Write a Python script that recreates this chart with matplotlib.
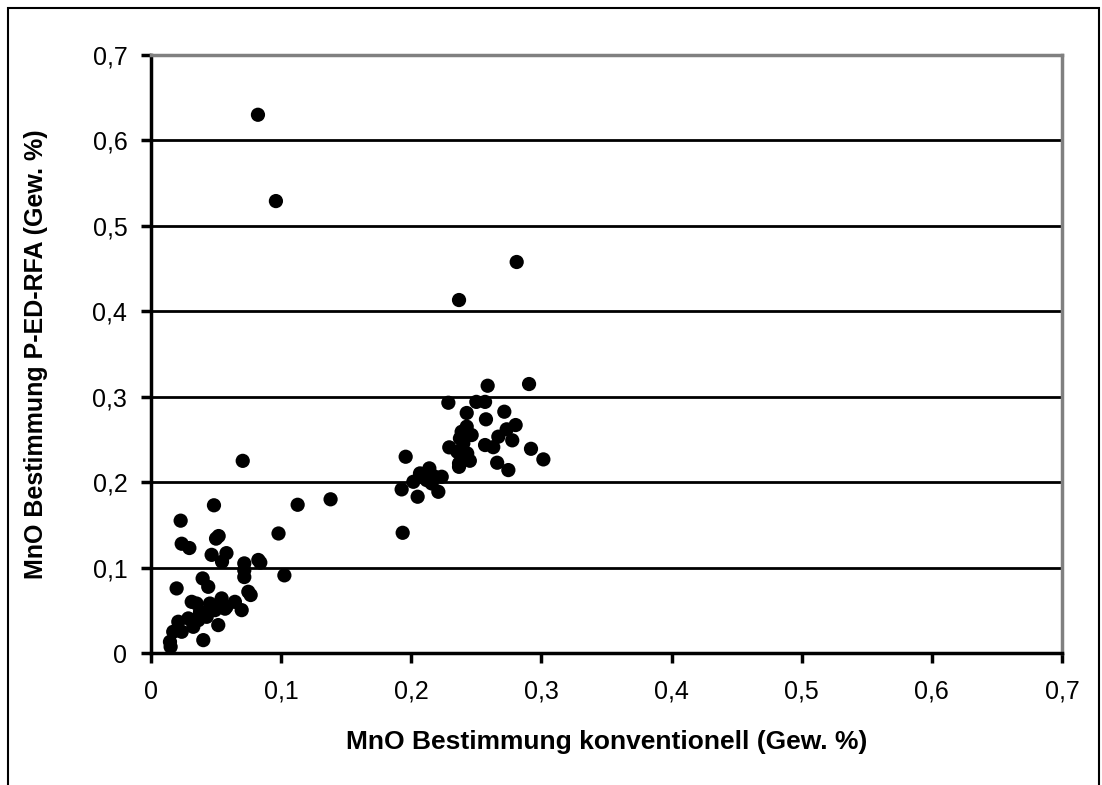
import matplotlib
matplotlib.use('Agg')
import matplotlib.pyplot as plt
from matplotlib.ticker import FuncFormatter, MultipleLocator
from matplotlib.patches import Rectangle

plt.rcParams['font.family'] = ['Liberation Sans', 'DejaVu Sans']

# MnO: konventionell (x) gegen P-ED-RFA (y), Gew. %
mno_konv = [
    0.0822, 0.0960, 0.2810, 0.2367,
    0.2587, 0.2905, 0.2285, 0.2500, 0.2567, 0.2426, 0.2715, 0.2574,
    0.2802, 0.2733, 0.2669, 0.2776, 0.2387, 0.2426, 0.2464, 0.2374,
    0.2400, 0.2567, 0.2630, 0.2292, 0.2920, 0.3015, 0.2354, 0.2430,
    0.2450, 0.2367, 0.2367, 0.2660, 0.2746,
    0.1957, 0.2067, 0.2139, 0.2182, 0.2234, 0.2016, 0.2118, 0.2157,
    0.1926, 0.2049, 0.2208, 0.1934,
    0.0705, 0.0484, 0.0228, 0.1127, 0.1380, 0.0980, 0.0236, 0.0295,
    0.0500, 0.0520, 0.0466, 0.0580, 0.0546, 0.0717, 0.0717, 0.0717,
    0.0825, 0.0840, 0.1025,
    0.0197, 0.0397, 0.0440, 0.0748, 0.0766, 0.0543, 0.0645, 0.0697,
    0.0313, 0.0453, 0.0377, 0.0492, 0.0517, 0.0580, 0.0210, 0.0287,
    0.0325, 0.0171, 0.0236, 0.0146, 0.0151, 0.0402, 0.0364, 0.0428,
    0.0351, 0.0569, 0.0340, 0.0430, 0.0470,
]
mno_rfa = [
    0.630, 0.529, 0.4577, 0.4132,
    0.3129, 0.3149, 0.2930, 0.2940, 0.2940, 0.2810, 0.2825, 0.2736,
    0.2669, 0.2619, 0.2533, 0.2490, 0.2590, 0.2650, 0.2552, 0.2513,
    0.2455, 0.2435, 0.2410, 0.2408, 0.2391, 0.2267, 0.2356, 0.2337,
    0.2251, 0.2220, 0.2180, 0.2228, 0.2142,
    0.2298, 0.2103, 0.2162, 0.2064, 0.2064, 0.2005, 0.2025, 0.1986,
    0.1916, 0.1830, 0.1888, 0.1408,
    0.2250, 0.1730, 0.1550, 0.1736, 0.1800, 0.1400, 0.1280, 0.1230,
    0.1340, 0.1370, 0.1150, 0.1170, 0.1070, 0.1050, 0.0970, 0.0890,
    0.1090, 0.1060, 0.0910,
    0.0757, 0.0874, 0.0776, 0.0718, 0.0680, 0.0640, 0.0600, 0.0503,
    0.0600, 0.0580, 0.0484, 0.0503, 0.0328, 0.0542, 0.0367, 0.0406,
    0.0308, 0.0250, 0.0250, 0.0132, 0.0074, 0.0152, 0.0386, 0.0425,
    0.0580, 0.0520, 0.0390, 0.0460, 0.0540,
]

fig = plt.figure(figsize=(11.02, 7.85), dpi=100)
# Rahmen um die ganze Grafik
fig.patches.append(Rectangle((0.007, -0.05), 0.99, 1.04, transform=fig.transFigure,
                             fill=False, edgecolor='black', linewidth=1.5))
ax = fig.add_axes([0.137, 0.168, 0.8267, 0.762])

ax.scatter(mno_konv, mno_rfa, s=105, color='black', edgecolors='none', zorder=3)

ax.set_xlim(0, 0.7)
ax.set_ylim(0, 0.7)
ax.xaxis.set_major_locator(MultipleLocator(0.1))
ax.yaxis.set_major_locator(MultipleLocator(0.1))
komma = FuncFormatter(lambda v, p: '0' if abs(v) < 1e-9 else f'{v:.1f}'.replace('.', ','))
ax.xaxis.set_major_formatter(komma)
ax.yaxis.set_major_formatter(komma)

ax.grid(axis='y', color='black', linewidth=2)
ax.set_axisbelow(True)

ax.spines['left'].set_linewidth(2.5)
ax.spines['bottom'].set_linewidth(2.5)
ax.spines['top'].set_color('#808080')
ax.spines['right'].set_color('#808080')
ax.spines['top'].set_linewidth(2.5)
ax.spines['right'].set_linewidth(2.5)

ax.tick_params(axis='both', direction='out', length=7, width=2.5, labelsize=18)
ax.tick_params(axis='x', pad=12)
ax.tick_params(axis='y', pad=10)

ax.set_xlabel('MnO Bestimmung konventionell (Gew. %)', fontsize=19, fontweight='bold', labelpad=19)
ax.set_ylabel('MnO Bestimmung P-ED-RFA (Gew. %)', fontsize=18, fontweight='bold', labelpad=32)

fig.savefig('out.png', dpi=100)
